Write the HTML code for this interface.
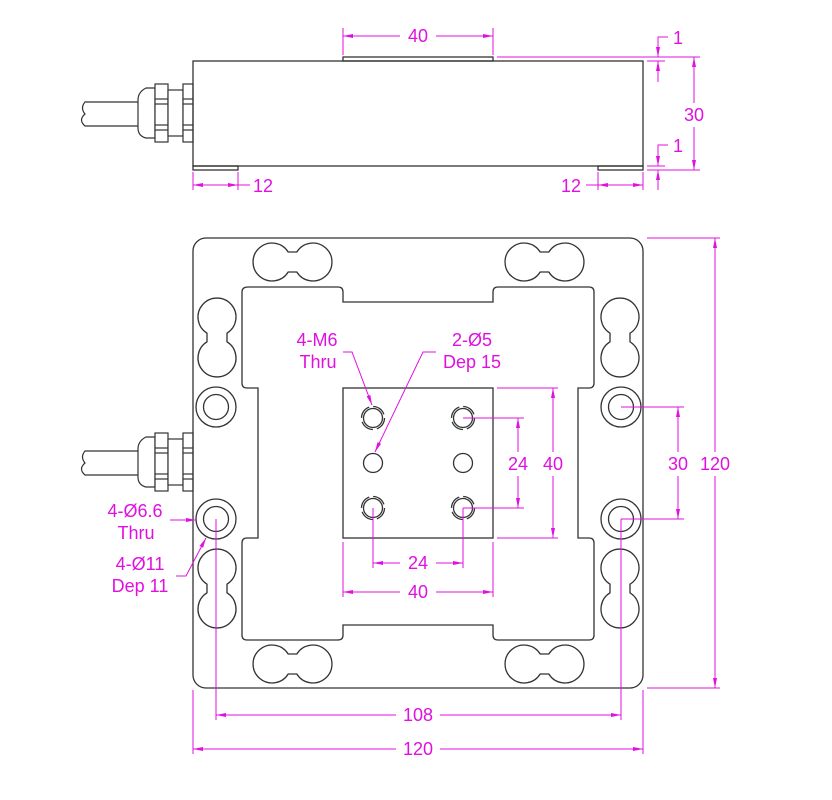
<!DOCTYPE html>
<html><head><style>
html,body{margin:0;padding:0;background:#fff;}
svg{display:block;}
text{font-family:"Liberation Sans",Arial,sans-serif;font-size:18px;fill:#e010e0;}
</style></head><body>
<svg width="832" height="800" viewBox="0 0 832 800" xmlns="http://www.w3.org/2000/svg">
<defs>
<marker id="a" viewBox="0 0 10 4" refX="10" refY="2" markerWidth="10" markerHeight="4" markerUnits="userSpaceOnUse" orient="auto-start-reverse"><path d="M0,0 L10,2 L0,4 Z" fill="#e010e0"/></marker>
<g id="gland" fill="#fff" stroke="#333" stroke-width="1.2">
<path d="M140,102 L85,102 Q80,108 85,114 Q78,120 85,126 L140,126" />
<path d="M155,88 L146,88 Q138,92 138,100 L138,128 Q138,136 146,138 L155,138 Z"/>
<rect x="155" y="84" width="13" height="58"/>
<line x1="155" y1="99" x2="168" y2="99"/><line x1="155" y1="104" x2="168" y2="104"/>
<line x1="155" y1="125" x2="168" y2="125"/><line x1="155" y1="130" x2="168" y2="130"/>
<rect x="168" y="90" width="15" height="46"/>
<rect x="183" y="84" width="10" height="58"/>
<line x1="183" y1="99" x2="193" y2="99"/><line x1="183" y1="104" x2="193" y2="104"/>
<line x1="183" y1="125" x2="193" y2="125"/><line x1="183" y1="130" x2="193" y2="130"/>
</g>
</defs>

<use href="#gland"/>
<g fill="none" stroke="#333" stroke-width="1.3">
<rect x="193" y="61" width="450" height="105"/>
<rect x="343" y="57" width="150" height="4"/>
<rect x="193" y="166" width="45" height="4"/>
<rect x="598" y="166" width="45" height="4"/>
</g>

<use href="#gland" transform="translate(0,349)"/>
<g fill="none" stroke="#333" stroke-width="1.3">
<rect x="193" y="238" width="450" height="450" rx="13"/>
<path d="M248,287 L338,287 Q343,287 343,292 L343,302 L493,302 L493,292 Q493,287 498,287 L589,287 Q594,287 594,292 L594,383 Q594,388 589,388 L578,388 L578,538 L589,538 Q594,538 594,543 L594,635 Q594,640 589,640 L498,640 Q493,640 493,635 L493,625 L343,625 L343,635 Q343,640 338,640 L247,640 Q242,640 242,635 L242,543 Q242,538 247,538 L258,538 L258,388 L247,388 Q242,388 242,383 L242,292 Q242,287 248,287 Z"/>
<path d="M288.2,252 L296.8,252 A19 19 0 1 1 296.8,272 L288.2,272 A19 19 0 1 1 288.2,252 Z"/>
<path d="M540.2,252 L548.8,252 A19 19 0 1 1 548.8,272 L540.2,272 A19 19 0 1 1 540.2,252 Z"/>
<path d="M288.2,654 L296.8,654 A19 19 0 1 1 296.8,674 L288.2,674 A19 19 0 1 1 288.2,654 Z"/>
<path d="M540.2,654 L548.8,654 A19 19 0 1 1 548.8,674 L540.2,674 A19 19 0 1 1 540.2,654 Z"/>
<path d="M227,333.2 L227,341.8 A19 19 0 1 1 207,341.8 L207,333.2 A19 19 0 1 1 227,333.2 Z"/>
<path d="M227,584.2 L227,592.8 A19 19 0 1 1 207,592.8 L207,584.2 A19 19 0 1 1 227,584.2 Z"/>
<path d="M630,333.2 L630,341.8 A19 19 0 1 1 610,341.8 L610,333.2 A19 19 0 1 1 630,333.2 Z"/>
<path d="M630,584.2 L630,592.8 A19 19 0 1 1 610,592.8 L610,584.2 A19 19 0 1 1 630,584.2 Z"/>
<circle cx="216" cy="407" r="20"/><circle cx="216" cy="407" r="12.5"/>
<circle cx="216" cy="519" r="20"/><circle cx="216" cy="519" r="12.5"/>
<circle cx="621" cy="407" r="20"/><circle cx="621" cy="407" r="12.5"/>
<circle cx="621" cy="519" r="20"/><circle cx="621" cy="519" r="12.5"/>
<rect x="343" y="388" width="150" height="150"/>
<circle cx="373" cy="418" r="9.5"/><circle cx="463" cy="418" r="9.5"/>
<circle cx="373" cy="508" r="9.5"/><circle cx="463" cy="508" r="9.5"/>
<circle cx="373" cy="463" r="9.5"/><circle cx="463" cy="463" r="9.5"/>
<g stroke-dasharray="14 4">
<circle cx="373" cy="418" r="11.5"/><circle cx="463" cy="418" r="11.5"/>
<circle cx="373" cy="508" r="11.5"/><circle cx="463" cy="508" r="11.5"/>
</g>
</g>

<g stroke="#e010e0" stroke-width="1" fill="none">
<line x1="343" y1="28" x2="343" y2="55"/><line x1="493" y1="28" x2="493" y2="55"/>
<line x1="343" y1="36" x2="400" y2="36" marker-start="url(#a)"/><line x1="436" y1="36" x2="493" y2="36" marker-end="url(#a)"/>
<line x1="497" y1="57" x2="700" y2="57"/><line x1="647" y1="61" x2="665" y2="61"/>
<line x1="647" y1="166" x2="665" y2="166"/><line x1="647" y1="170" x2="700" y2="170"/>
<polyline points="668,37 658,37 658,57" marker-end="url(#a)"/>
<line x1="658" y1="82" x2="658" y2="61" marker-end="url(#a)"/>
<polyline points="668,145 658,145 658,166" marker-end="url(#a)"/>
<line x1="658" y1="190" x2="658" y2="170" marker-end="url(#a)"/>
<line x1="694" y1="103" x2="694" y2="57" marker-end="url(#a)"/>
<line x1="694" y1="127" x2="694" y2="170" marker-end="url(#a)"/>
<line x1="193" y1="172" x2="193" y2="190"/><line x1="238" y1="172" x2="238" y2="190"/>
<line x1="193" y1="185" x2="238" y2="185" marker-start="url(#a)" marker-end="url(#a)"/>
<line x1="238" y1="185" x2="250" y2="185"/>
<line x1="598" y1="172" x2="598" y2="190"/><line x1="643" y1="172" x2="643" y2="190"/>
<line x1="598" y1="185" x2="643" y2="185" marker-start="url(#a)" marker-end="url(#a)"/>
<line x1="586" y1="185" x2="598" y2="185"/>

<line x1="647" y1="238" x2="720" y2="238"/><line x1="647" y1="688" x2="720" y2="688"/>
<line x1="715" y1="452" x2="715" y2="238" marker-end="url(#a)"/>
<line x1="715" y1="476" x2="715" y2="688" marker-end="url(#a)"/>
<line x1="621" y1="407" x2="684" y2="407"/><line x1="621" y1="519" x2="684" y2="519"/>
<line x1="678" y1="452" x2="678" y2="407" marker-end="url(#a)"/>
<line x1="678" y1="476" x2="678" y2="519" marker-end="url(#a)"/>
<line x1="497" y1="388" x2="558" y2="388"/><line x1="497" y1="538" x2="558" y2="538"/>
<line x1="553" y1="452" x2="553" y2="388" marker-end="url(#a)"/>
<line x1="553" y1="476" x2="553" y2="538" marker-end="url(#a)"/>
<line x1="463" y1="418" x2="524" y2="418"/><line x1="463" y1="508" x2="524" y2="508"/>
<line x1="518" y1="452" x2="518" y2="418" marker-end="url(#a)"/>
<line x1="518" y1="476" x2="518" y2="508" marker-end="url(#a)"/>
<line x1="373" y1="508" x2="373" y2="568"/><line x1="463" y1="508" x2="463" y2="568"/>
<line x1="400" y1="563" x2="373" y2="563" marker-end="url(#a)"/>
<line x1="436" y1="563" x2="463" y2="563" marker-end="url(#a)"/>
<line x1="343" y1="542" x2="343" y2="597"/><line x1="493" y1="542" x2="493" y2="597"/>
<line x1="400" y1="592" x2="343" y2="592" marker-end="url(#a)"/>
<line x1="436" y1="592" x2="493" y2="592" marker-end="url(#a)"/>
<line x1="216" y1="519" x2="216" y2="720"/><line x1="621" y1="519" x2="621" y2="720"/>
<line x1="396" y1="715" x2="216" y2="715" marker-end="url(#a)"/>
<line x1="440" y1="715" x2="621" y2="715" marker-end="url(#a)"/>
<line x1="193" y1="690" x2="193" y2="754"/><line x1="643" y1="690" x2="643" y2="754"/>
<line x1="396" y1="749" x2="193" y2="749" marker-end="url(#a)"/>
<line x1="440" y1="749" x2="643" y2="749" marker-end="url(#a)"/>
<polyline points="343,352 352,352 372,405" marker-end="url(#a)"/>
<polyline points="436,352 423,352 375,452" marker-end="url(#a)"/>
<line x1="170" y1="520" x2="196" y2="520" marker-end="url(#a)"/>
<polyline points="176,576 186,576 206,538" marker-end="url(#a)"/>
</g>

<g text-anchor="middle">
<text x="418" y="42">40</text>
<text x="678" y="44">1</text>
<text x="678" y="152">1</text>
<text x="694" y="121">30</text>
<text x="263" y="192">12</text>
<text x="571" y="192">12</text>
<text x="715" y="470">120</text>
<text x="678" y="470">30</text>
<text x="553" y="470">40</text>
<text x="518" y="470">24</text>
<text x="418" y="569">24</text>
<text x="418" y="598">40</text>
<text x="418" y="721">108</text>
<text x="418" y="755">120</text>
<text x="317" y="346">4-M6</text>
<text x="318" y="368">Thru</text>
<text x="472" y="346">2-Ø5</text>
<text x="472" y="368">Dep 15</text>
<text x="135" y="517">4-Ø6.6</text>
<text x="136" y="539">Thru</text>
<text x="140" y="570">4-Ø11</text>
<text x="140" y="592">Dep 11</text>
</g>
</svg>
</body></html>
